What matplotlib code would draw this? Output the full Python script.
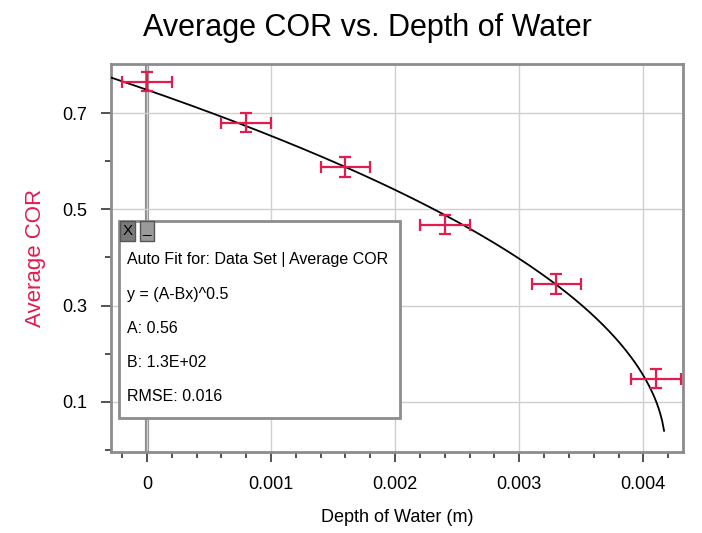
import numpy as np
import matplotlib
matplotlib.use("Agg")
import matplotlib.pyplot as plt
from matplotlib.patches import Rectangle
from matplotlib.ticker import MultipleLocator, FixedLocator

plt.rcParams['font.family'] = ['Liberation Sans', 'DejaVu Sans']

# data
depth = [0.0, 0.0008, 0.0016, 0.0024, 0.0033, 0.0041]
avg_cor = [0.765, 0.680, 0.588, 0.468, 0.345, 0.148]
depth_err = [0.0002] * 6
cor_err = [0.02] * 6

# fit y = (A - Bx)^0.5
fit_A = 0.56
fit_B = 134.0
fit_lines = ["Auto Fit for: Data Set | Average COR",
             "y = (A-Bx)^0.5",
             "A: 0.56",
             "B: 1.3E+02",
             "RMSE: 0.016"]

red = '#e31c4f'
grey = '#8c8c8c'

fig = plt.figure(figsize=(7.02, 5.33), dpi=100)
ax = fig.add_axes([0.158, 0.152, 0.815, 0.728])

xmin, xmax = -0.00029, 0.00432
ax.set_xlim(xmin, xmax)
ax.set_ylim(-0.004, 0.802)

ax.xaxis.set_minor_locator(MultipleLocator(0.0002))
ax.yaxis.set_major_locator(FixedLocator([0.1, 0.3, 0.5, 0.7]))
ax.yaxis.set_minor_locator(FixedLocator([0.0, 0.2, 0.4, 0.6]))
ax.set_xticks([0, 0.001, 0.002, 0.003, 0.004])
ax.set_xticklabels(['0', '0.001', '0.002', '0.003', '0.004'])

ax.grid(True, which='major', color='#cfcfcf', lw=1, zorder=0)
ax.axvline(0, color=grey, lw=3, zorder=1)

xf = np.linspace(xmin, (fit_A - 0.04 ** 2) / fit_B, 300)
ax.plot(xf, np.sqrt(fit_A - fit_B * xf), color='black', lw=1.3, zorder=3)

ax.errorbar(depth, avg_cor, xerr=depth_err, yerr=cor_err, fmt='none',
            ecolor=red, elinewidth=1.6, capsize=4, capthick=1.6, zorder=4)

for s in ax.spines.values():
    s.set_color(grey)
    s.set_linewidth(2)

ax.tick_params(which='major', direction='out', length=7, width=1.2,
               color='#333333', labelsize=13, pad=10)
ax.tick_params(which='minor', direction='out', length=4, width=1.2, color='#333333')

fig.text(0.523, 0.948, "Average COR vs. Depth of Water", fontsize=22,
         ha='center', va='center')
ax.set_xlabel("Depth of Water (m)", fontsize=13, labelpad=12)
ax.set_ylabel("Average COR", fontsize=16, color=red, labelpad=12)

# fit info box
ax.add_patch(Rectangle((0.014, 0.088), 0.491, 0.507, transform=ax.transAxes,
                       facecolor='white', edgecolor=grey, lw=2, zorder=6))
ax.add_patch(Rectangle((0.016, 0.544), 0.026, 0.051, transform=ax.transAxes,
                       facecolor='#7a7a7a', edgecolor='#555555', lw=1, zorder=7))
ax.add_patch(Rectangle((0.051, 0.544), 0.024, 0.051, transform=ax.transAxes,
                       facecolor='#9a9a9a', edgecolor='#555555', lw=1, zorder=7))
ax.text(0.029, 0.570, "X", transform=ax.transAxes, ha='center', va='center',
        fontsize=11, zorder=8)
ax.text(0.063, 0.575, "_", transform=ax.transAxes, ha='center', va='center',
        fontsize=11, zorder=8)
for i, line in enumerate(fit_lines):
    ax.text(0.028, 0.495 - i * 0.088, line, transform=ax.transAxes,
            ha='left', va='center', fontsize=11.5, zorder=8)

fig.savefig("out.png", dpi=100)
